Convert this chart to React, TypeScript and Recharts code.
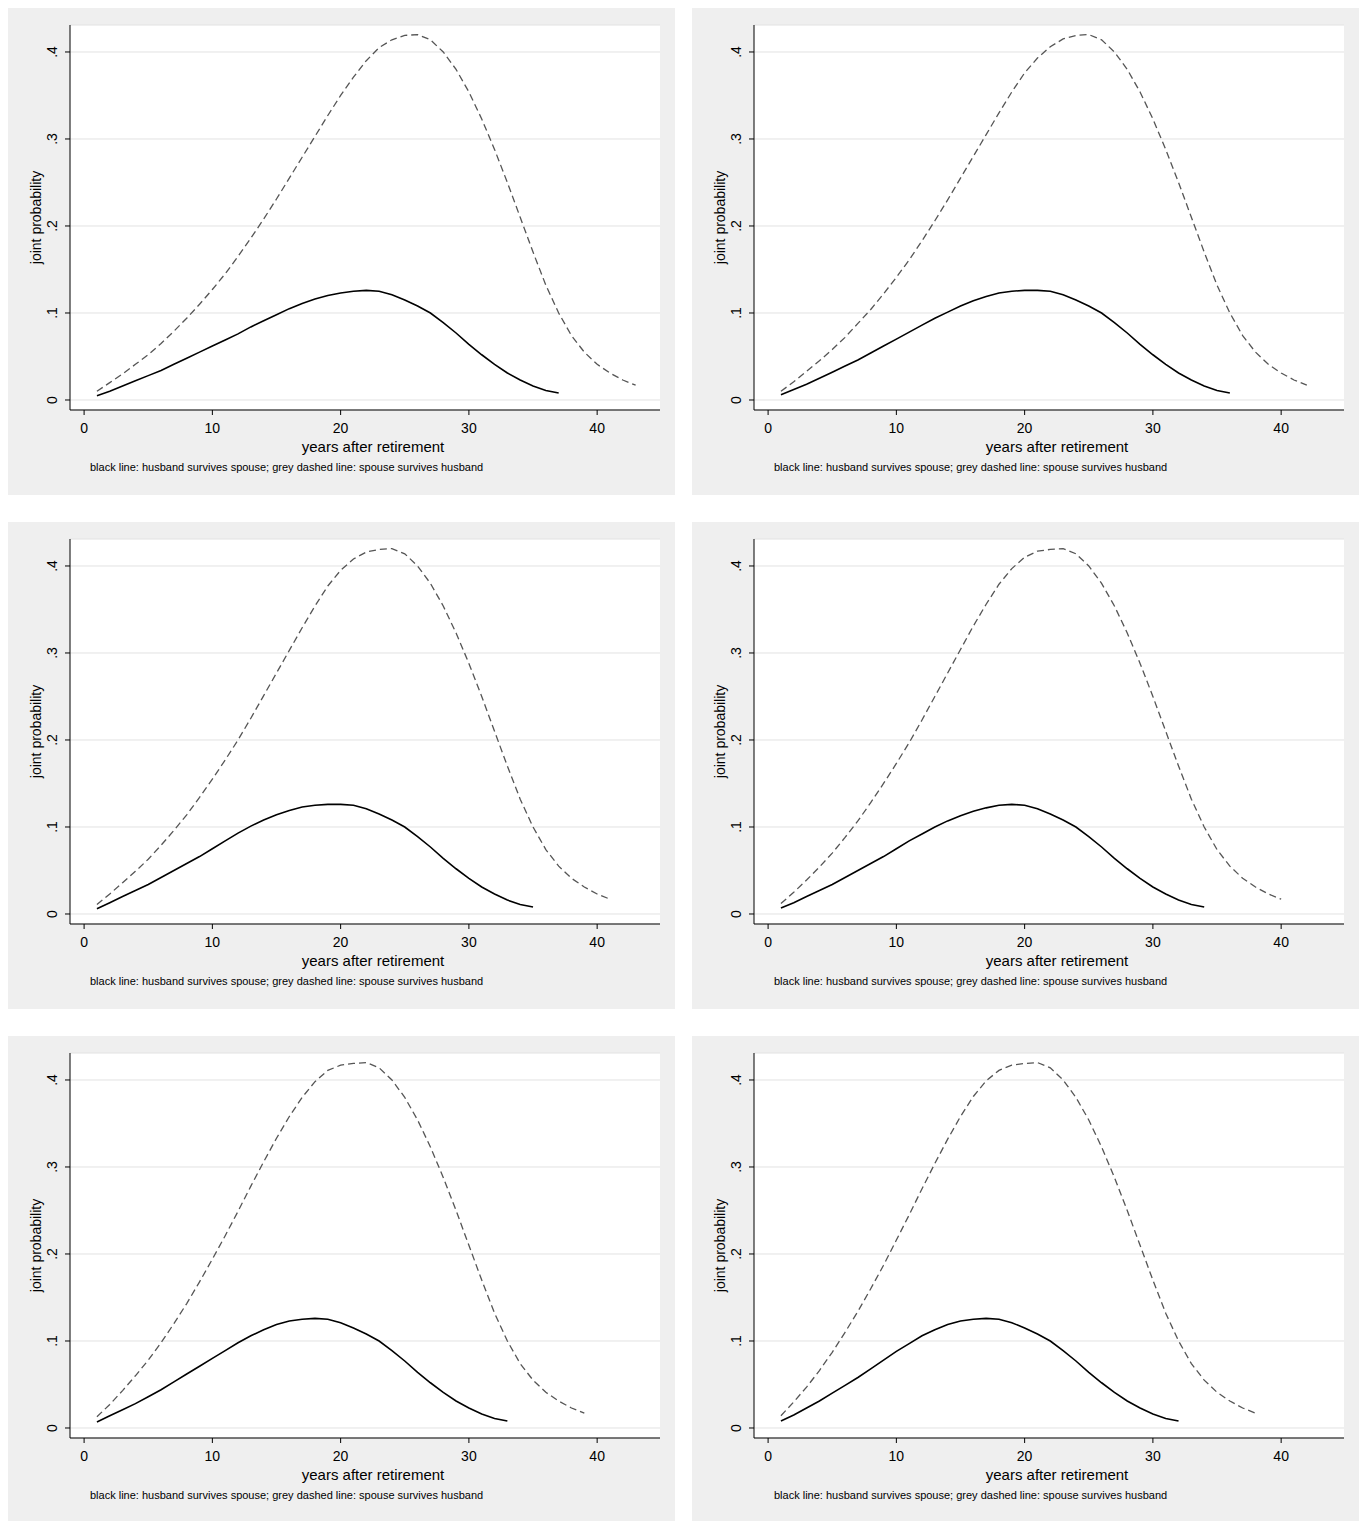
import React from "react";
import { CartesianGrid, Line, LineChart, XAxis, YAxis } from "recharts";

const years = [1, 2, 3, 4, 5, 6, 7, 8, 9, 10, 11, 12, 13, 14, 15, 16, 17, 18, 19, 20, 21, 22, 23, 24, 25, 26, 27, 28, 29, 30, 31, 32, 33, 34, 35, 36, 37, 38, 39, 40, 41, 42, 43];
const xTicks = [0, 10, 20, 30, 40];
const yTicks = [0, 0.1, 0.2, 0.3, 0.4];

const spouseRise = [
    [.01, .02, .03, .041, .052, .065, .079, .094, .11, .127, .145, .165, .186, .208, .231, .255, .279, .303, .327, .35, .371, .39, .405, .414, .419, .42],
    [.01, .021, .033, .045, .058, .072, .088, .104, .122, .141, .161, .183, .206, .23, .255, .28, .305, .33, .354, .376, .393, .406, .415, .419, .42],
    [.011, .023, .036, .049, .063, .079, .096, .114, .134, .155, .177, .2, .225, .251, .277, .303, .329, .354, .377, .395, .408, .416, .419, .42],
    [.012, .025, .039, .054, .07, .088, .107, .128, .15, .173, .197, .223, .25, .277, .304, .331, .356, .379, .397, .41, .417, .419, .42],
    [.013, .027, .043, .06, .078, .098, .12, .143, .168, .194, .221, .249, .278, .306, .333, .358, .38, .398, .411, .417, .419, .42],
    [.014, .03, .047, .066, .087, .11, .134, .16, .187, .216, .245, .275, .304, .332, .358, .381, .399, .411, .417, .419, .42],
];
const spouseFall = [.414, .4, .38, .354, .323, .288, .25, .21, .17, .132, .1, .074, .055, .041, .031, .023, .017];

const husbandRise = [
    [.005, .01, .016, .022, .028, .034, .041, .048, .055, .062, .069, .076, .084, .091, .098, .105, .111, .116, .12, .123, .125, .126],
    [.006, .012, .018, .025, .032, .039, .046, .054, .062, .07, .078, .086, .094, .101, .108, .114, .119, .123, .125, .126, .126],
    [.006, .013, .02, .027, .034, .042, .05, .058, .066, .075, .084, .093, .101, .108, .114, .119, .123, .125, .126, .126],
    [.007, .013, .02, .027, .034, .042, .05, .058, .066, .075, .084, .092, .1, .107, .113, .118, .122, .125, .126],
    [.007, .014, .021, .028, .036, .044, .053, .062, .071, .08, .089, .098, .106, .113, .119, .123, .125, .126],
    [.008, .015, .023, .031, .04, .049, .058, .068, .078, .088, .097, .106, .113, .119, .123, .125, .126],
];
const husbandFall = [.125, .121, .115, .108, .1, .089, .077, .064, .052, .041, .031, .023, .016, .011, .008];

const font = "Liberation Sans, Arial, sans-serif";

function YTick(props: any) {
    const { x, y, payload } = props;
    const v = payload.value === 0 ? "0" : String(payload.value).replace(/^0/, "");
    const bx = x - 6;
    return (
        <text x={bx} y={y} transform={`rotate(-90 ${bx} ${y})`} textAnchor="middle" fontSize={14} fill="#000" fontFamily={font}>
            {v}
        </text>
    );
}

function Panel({ k }: { k: number }) {
    const spouse = [...spouseRise[k], ...spouseFall];
    const husband = [...husbandRise[k], ...husbandFall];
    const data = years.map((yr, i) => ({ yr, spouse: spouse[i], husband: husband[i] }));
    return (
        <div style={{ width: 667, height: 487, background: "#efefef", position: "relative" }}>
            <LineChart width={667} height={487} data={data} margin={{ top: 17, right: 15, bottom: 55, left: 0 }}>
                <CartesianGrid vertical={false} fill="#fff" stroke="#e2e2e2" />
                <XAxis dataKey="yr" type="number" domain={[-1.1, 44.9]} ticks={xTicks} allowDataOverflow height={30}
                    tick={{ fontSize: 14, fill: "#000", fontFamily: font, dy: 6 }} stroke="#000" tickSize={5} />
                <YAxis type="number" domain={[-0.0115, 0.431]} ticks={yTicks} allowDataOverflow width={62}
                    tick={<YTick />} stroke="#000" tickSize={5}
                    label={{ value: "joint probability", angle: -90, position: "insideLeft", offset: 28, fontSize: 14, fill: "#000", fontFamily: font, style: { textAnchor: "middle" } }} />
                <Line dataKey="spouse" stroke="#555" strokeDasharray="7 4" strokeWidth={1.3} dot={false} isAnimationActive={false} />
                <Line dataKey="husband" stroke="#000" strokeWidth={1.6} dot={false} isAnimationActive={false} />
            </LineChart>
            <div style={{ position: "absolute", left: 0, width: 730, textAlign: "center", top: 430, fontSize: 15, fontFamily: font }}>
                years after retirement
            </div>
            <div style={{ position: "absolute", left: 82, top: 453, fontSize: 11, fontFamily: font }}>
                black line: husband survives spouse; grey dashed line: spouse survives husband
            </div>
        </div>
    );
}

export default function App() {
    return (
        <div style={{ display: "grid", gridTemplateColumns: "667px 667px", columnGap: 17, rowGap: 27, width: 1351 }}>
            {[0, 1, 2, 3, 4, 5].map((k) => <Panel key={k} k={k} />)}
        </div>
    );
}
